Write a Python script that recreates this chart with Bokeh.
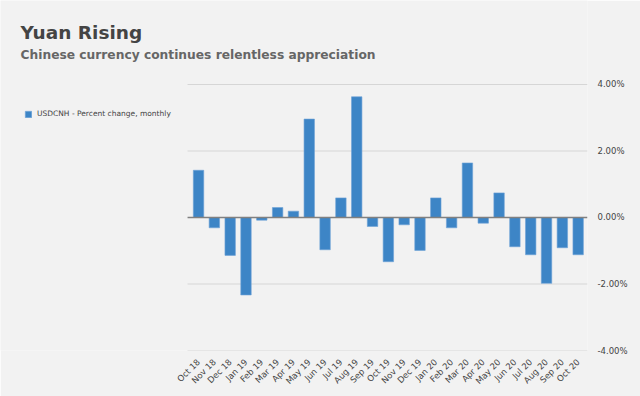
from bokeh.plotting import figure
from bokeh.models import (LinearAxis, FixedTicker, PrintfTickFormatter,
                          Legend, LegendItem, Range1d, Label)
from bokeh.embed import file_html
from bokeh.resources import INLINE
import math

months = ["Oct 18", "Nov 18", "Dec 18", "Jan 19", "Feb 19", "Mar 19", "Apr 19", "May 19",
          "Jun 19", "Jul 19", "Aug 19", "Sep 19", "Oct 19", "Nov 19", "Dec 19", "Jan 20",
          "Feb 20", "Mar 20", "Apr 20", "May 20", "Jun 20", "Jul 20", "Aug 20", "Sep 20", "Oct 20"]
pct_change = [1.42, -0.31, -1.14, -2.33, -0.08, 0.30, 0.19, 2.96,
              -0.97, 0.59, 3.63, -0.27, -1.33, -0.22, -0.99, 0.59,
              -0.31, 1.64, -0.17, 0.74, -0.88, -1.12, -1.98, -0.91, -1.12]
y_ticks = [-4, -2, 0, 2, 4]
series_name = "USDCNH - Percent change, monthly"
title_text = "Yuan Rising"
subtitle_text = "Chinese currency continues relentless appreciation"

BG = "#f2f2f2"
BAR = "#3d85c6"
FONT = "DejaVu Sans"

idx = list(range(len(months)))

# layout: the frame covers the whole canvas except the axis panels;
# the plotting area (grid) runs from PLOT_X0 to the right edge of the frame
X_START, X_END = -12.52, 24.59
PLOT_X0 = -0.695
W, H = 640, 396
FRAME_H = 350
p = figure(width=W, height=H, x_range=Range1d(X_START, X_END), y_range=Range1d(-4, 6.526),
           output_backend="svg", toolbar_location=None,
           background_fill_color=BG, border_fill_color=BG, outline_line_color=None,
           min_border_left=0, min_border_right=53, min_border_top=0, min_border_bottom=46)
p.yaxis.visible = False
p.xaxis.visible = False
p.xgrid.visible = False
p.ygrid.visible = False

grid_y = [t for t in y_ticks if t != 0]
p.segment(x0=[PLOT_X0] * len(grid_y), x1=[X_END] * len(grid_y), y0=grid_y, y1=grid_y,
          line_color="#d6d6d6", line_width=1)

r = p.vbar(x=idx, top=pct_change, width=0.66, color=BAR, line_color="#6fa3d6", line_width=0.6)

p.segment(x0=[PLOT_X0], x1=[X_END], y0=[0], y1=[0], line_color="#808080", line_width=1.5)

yax = LinearAxis(ticker=FixedTicker(ticks=y_ticks), formatter=PrintfTickFormatter(format="%.2f%%"),
                 axis_line_color=None, major_tick_line_color=None, minor_tick_line_color=None,
                 major_label_text_font=FONT, major_label_text_font_size="8.5px",
                 major_label_text_color="#444444", major_label_standoff=4)
p.add_layout(yax, "right")

xax = LinearAxis(ticker=FixedTicker(ticks=idx),
                 major_label_overrides={i: m for i, m in zip(idx, months)},
                 axis_line_color=None, major_tick_line_color=None, minor_tick_line_color=None,
                 major_label_text_font=FONT, major_label_text_font_size="8.5px",
                 major_label_text_color="#444444", major_label_orientation=math.pi / 4,
                 major_label_standoff=4)
p.add_layout(xax, "below")

p.add_layout(Label(x=20, y=FRAME_H - 32, x_units="screen", y_units="screen", text=title_text,
                   text_font=FONT, text_font_style="bold", text_font_size="18.5px",
                   text_color="#444444", text_baseline="alphabetic"))
p.add_layout(Label(x=20, y=FRAME_H - 54, x_units="screen", y_units="screen", text=subtitle_text,
                   text_font=FONT, text_font_style="bold", text_font_size="12.25px",
                   text_color="#666666", text_baseline="alphabetic"))

leg = Legend(items=[LegendItem(label=series_name, renderers=[r])], location=(24, FRAME_H - 118),
             background_fill_alpha=0, border_line_color=None,
             label_text_font=FONT, label_text_font_size="7.5px", label_text_color="#444444",
             glyph_width=8, glyph_height=8, label_standoff=5, padding=1, margin=0,
             label_height=8)
p.add_layout(leg, "center")

open("out.html", "w").write(file_html(p, INLINE))
